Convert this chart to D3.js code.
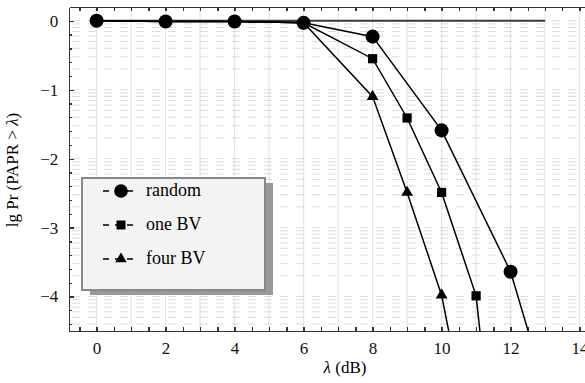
<!DOCTYPE html>
<html>
<head>
<meta charset="utf-8">
<script src="https://cdn.jsdelivr.net/npm/d3@7"></script>
<style>
body { margin: 0; background: #fff; }
svg { font-family: "Liberation Serif", "Times New Roman", serif; }
.axis path, .axis line { stroke: #333; stroke-width: 1.3; shape-rendering: crispEdges; }
</style>
</head>
<body>
<script>
// data
var randomX = [0, 2, 4, 6, 8, 10, 12, 13];
var randomY = [0, -0.01, -0.01, -0.03, -0.23, -1.59, -3.64, -5.33];
var oneBvX = [0, 2, 4, 6, 8, 9, 10, 11, 12];
var oneBvY = [0, -0.01, -0.01, -0.03, -0.55, -1.41, -2.49, -3.99, -8.6];
var fourBvX = [0, 2, 4, 6, 8, 9, 10, 11];
var fourBvY = [0, -0.01, -0.01, -0.03, -1.10, -2.49, -3.98, -6.5];
var refX = [0, 13];
var refY = [0, 0];
var xTicks = [0, 2, 4, 6, 8, 10, 12, 14];
var yTicks = [0, -1, -2, -3, -4];
var names = ["random", "one BV", "four BV"];

var W = 585, H = 383;
var margin = {top: 7, left: 69};
var plotRight = 621, plotBottom = 331;
var serif = "'Liberation Serif', 'Times New Roman', serif";

var x = d3.scaleLinear().domain([-0.8, 15.2]).range([margin.left, plotRight]);
var y = d3.scaleLinear().domain([-4.5, 0.2]).range([plotBottom, margin.top]);

var svg = d3.select("body").append("svg")
    .attr("width", W)
    .attr("height", H);

svg.append("defs").append("clipPath").attr("id", "clip")
  .append("rect")
    .attr("x", margin.left).attr("y", margin.top)
    .attr("width", plotRight - margin.left).attr("height", plotBottom - margin.top);

// grid
var grid = svg.append("g").attr("clip-path", "url(#clip)");
grid.selectAll(".vgrid")
    .data(d3.range(0, 16))
  .enter().append("line")
    .attr("x1", d => x(d)).attr("x2", d => x(d))
    .attr("y1", margin.top).attr("y2", plotBottom)
    .attr("stroke", "#e4e4e4").attr("stroke-width", 1.2);

var logLines = [];
for (var n = 0; n <= 5; n++) {
  for (var k = 1; k <= 9; k++) {
    var v = -n + Math.log10(k) - 1;
    if (v > -4.5 && v < 0.2) logLines.push(v);
  }
}
logLines.push(0);
grid.selectAll(".hgrid")
    .data(logLines)
  .enter().append("line")
    .attr("x1", margin.left).attr("x2", plotRight)
    .attr("y1", d => y(d)).attr("y2", d => y(d))
    .attr("stroke", "#dcdcdc").attr("stroke-width", 1)
    .attr("stroke-dasharray", "8,8")
    .attr("stroke-dashoffset", -3);

// axes
svg.append("g")
    .attr("class", "axis")
    .attr("transform", "translate(0," + plotBottom + ")")
    .call(d3.axisBottom(x).tickValues(d3.range(-0.5, 15.1, 0.5)).tickSize(-4).tickSizeOuter(0)
      .tickFormat(d => xTicks.indexOf(d) >= 0 ? d : ""))
    .selectAll("text")
      .attr("dy", "1.15em")
      .style("font-family", serif).style("font-size", "17px").attr("fill", "#111");

svg.append("g")
    .attr("class", "axis")
    .attr("transform", "translate(0," + margin.top + ")")
    .call(d3.axisTop(x).tickValues(d3.range(-0.5, 15.1, 0.5)).tickSize(-4).tickSizeOuter(0).tickFormat(""));

svg.append("g")
    .attr("class", "axis")
    .attr("transform", "translate(" + margin.left + ",0)")
    .call(d3.axisLeft(y).tickValues(d3.range(-4.4, 0.01, 0.2).map(d => Math.round(d * 10) / 10))
      .tickSize(-3).tickSizeOuter(0)
      .tickFormat(d => yTicks.indexOf(d) >= 0 ? (d < 0 ? "\u2212" + (-d) : d) : ""))
    .call(g => g.selectAll(".tick").filter(d => yTicks.indexOf(d) >= 0).select("line").attr("x2", 5))
    .selectAll("text")
      .attr("dx", "-0.45em")
      .style("font-family", serif).style("font-size", "17px").attr("fill", "#111");

// series
var line = d3.line().x(d => x(d[0])).y(d => y(d[1]));
var plot = svg.append("g").attr("clip-path", "url(#clip)");

plot.append("path")
    .datum(d3.zip(refX, refY))
    .attr("d", line)
    .attr("fill", "none").attr("stroke", "#3a3a3a").attr("stroke-width", 2);

var series = [
  {name: names[0], pts: d3.zip(randomX, randomY), sym: d3.symbolCircle, size: 155},
  {name: names[1], pts: d3.zip(oneBvX, oneBvY), sym: d3.symbolSquare, size: 85},
  {name: names[2], pts: d3.zip(fourBvX, fourBvY), sym: d3.symbolTriangle, size: 60}
];

series.slice().reverse().forEach(function(s) {
  plot.append("path")
      .datum(s.pts)
      .attr("d", line)
      .attr("fill", "none").attr("stroke", "#000").attr("stroke-width", 1.5);
});
series.slice().reverse().forEach(function(s) {
  plot.selectAll(null)
      .data(s.pts)
    .enter().append("path")
      .attr("d", d3.symbol().type(s.sym).size(s.size))
      .attr("transform", d => "translate(" + x(d[0]) + "," + y(d[1]) + ")")
      .attr("fill", "#000");
});

// legend
var lg = svg.append("g");
lg.append("rect")
    .attr("x", 90).attr("y", 183).attr("width", 183).attr("height", 112)
    .attr("fill", "#999");
lg.append("rect")
    .attr("x", 82).attr("y", 178).attr("width", 183).attr("height", 112)
    .attr("fill", "#f3f3f3").attr("stroke", "#888").attr("stroke-width", 2);

var rows = lg.selectAll(".row")
    .data(series)
  .enter().append("g")
    .attr("transform", (d, i) => "translate(0," + (191 + i * 34) + ")");
rows.append("line")
    .attr("x1", 103).attr("x2", 139)
    .attr("stroke", "#000").attr("stroke-width", 1.5)
    .attr("stroke-dasharray", "6,6");
rows.append("path")
    .attr("d", d => d3.symbol().type(d.sym).size(d.size * 0.95)())
    .attr("transform", "translate(121,0)")
    .attr("fill", "#000");
rows.append("text")
    .attr("x", 146).attr("y", 5)
    .style("font-size", "18px")
    .text(d => d.name);

// axis titles
var xt = svg.append("text")
    .attr("x", 345).attr("y", 373)
    .attr("text-anchor", "middle")
    .style("font-size", "17px");
xt.append("tspan").style("font-style", "italic").text("\u03bb");
xt.append("tspan").text(" (dB)");

var yt = svg.append("text")
    .attr("transform", "translate(18,170) rotate(-90)")
    .attr("text-anchor", "middle")
    .style("font-size", "17px");
yt.append("tspan").text("lg Pr (PAPR > ");
yt.append("tspan").style("font-style", "italic").text("\u03bb");
yt.append("tspan").text(")");
</script>
</body>
</html>
